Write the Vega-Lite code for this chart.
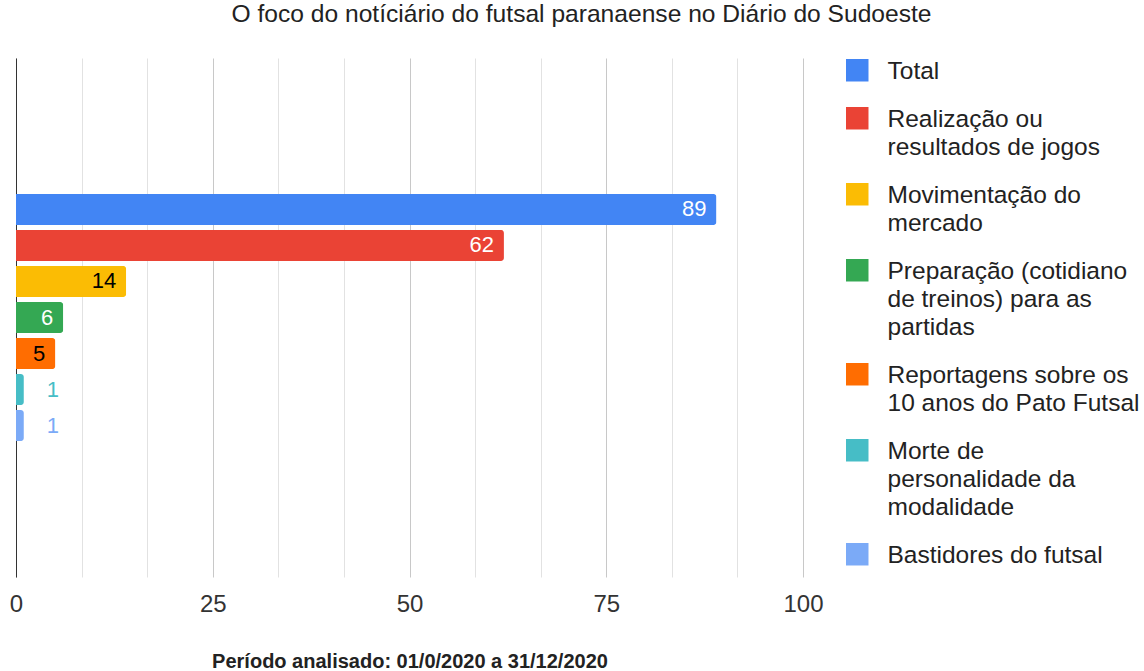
{
  "$schema": "https://vega.github.io/schema/vega-lite/v6.json",
  "width": 787,
  "height": 519,
  "autosize": {"type": "none"},
  "padding": {"left": 16, "top": 58, "right": 341, "bottom": 94},
  "background": "white",
  "config": {"style": {"guide-label": {"dy": -10, "lineHeight": 28}}, "view": {"stroke": null}},
  "title": {
    "text": "O foco do notíciário do futsal paranaense no Diário do Sudoeste",
    "font": "Liberation Sans",
    "fontSize": 24.6,
    "fontWeight": "normal",
    "color": "#222222",
    "anchor": "middle",
    "dx": 172,
    "offset": 30
  },
  "data": {
    "values": [
      {"categoria": "2020", "serie": "Total", "valor": 89},
      {"categoria": "2020", "serie": "Realização ou resultados de jogos", "valor": 62},
      {"categoria": "2020", "serie": "Movimentação do mercado", "valor": 14},
      {"categoria": "2020", "serie": "Preparação (cotidiano de treinos) para as partidas", "valor": 6},
      {"categoria": "2020", "serie": "Reportagens sobre os 10 anos do Pato Futsal", "valor": 5},
      {"categoria": "2020", "serie": "Morte de personalidade da modalidade", "valor": 1},
      {"categoria": "2020", "serie": "Bastidores do futsal", "valor": 1}
    ]
  },
  "encoding": {
    "y": {
      "field": "categoria",
      "type": "nominal",
      "scale": {"paddingInner": 0, "paddingOuter": 0.55},
      "axis": {"labels": false, "ticks": false, "title": null, "grid": false, "domain": true, "domainColor": "#333333", "domainWidth": 1}
    },
    "yOffset": {
      "field": "serie",
      "type": "nominal",
      "sort": null,
      "scale": {"paddingInner": 0.14, "paddingOuter": 0}
    },
    "x": {
      "field": "valor",
      "type": "quantitative",
      "scale": {"domain": [0, 100], "nice": false},
      "axis": {
        "values": [0, 8.3333, 16.6667, 25, 33.3333, 41.6667, 50, 58.3333, 66.6667, 75, 83.3333, 91.6667, 100],
        "labelExpr": "datum.value % 25 == 0 ? datum.label : ''",
        "format": "d",
        "grid": true,
        "gridColor": {"condition": {"test": "datum.value % 25 == 0", "value": "#c8c8c8"}, "value": "#e2e2e2"},
        "ticks": false,
        "domain": false,
        "labelFont": "Liberation Sans",
        "labelFontSize": 24,
        "labelColor": "#333333",
        "labelPadding": 25,
        "labelFlush": false,
        "title": "Período analisado: 01/0/2020 a 31/12/2020",
        "titleFont": "Liberation Sans",
        "titleFontSize": 20,
        "titleFontWeight": "bold",
        "titleColor": "#222222",
        "titlePadding": 35
      }
    }
  },
  "layer": [
    {
      "mark": {"type": "bar", "cornerRadiusEnd": 3},
      "encoding": {
        "color": {
          "field": "serie",
          "type": "nominal",
          "scale": {
            "domain": ["Total", "Realização ou resultados de jogos", "Movimentação do mercado", "Preparação (cotidiano de treinos) para as partidas", "Reportagens sobre os 10 anos do Pato Futsal", "Morte de personalidade da modalidade", "Bastidores do futsal"],
            "range": ["#4285f4", "#ea4335", "#fbbc04", "#34a853", "#ff6d01", "#46bdc6", "#7baaf7"]
          },
          "legend": {
            "title": null,
            "orient": "right",
            "offset": 42,
            "padding": 0,
            "symbolType": "square",
            "symbolSize": 506,
            "symbolStrokeWidth": 0,
            "symbolOpacity": 1,
            "labelFont": "Liberation Sans",
            "labelFontSize": 24.5,
            "labelColor": "#222222",
            "labelOffset": 18,
            "labelLimit": 300,
            "labelBaseline": "top",
            "rowPadding": 22,
            "labelExpr": "datum.label == 'Realização ou resultados de jogos' ? ['Realização ou', 'resultados de jogos'] : datum.label == 'Movimentação do mercado' ? ['Movimentação do', 'mercado'] : datum.label == 'Preparação (cotidiano de treinos) para as partidas' ? ['Preparação (cotidiano', 'de treinos) para as', 'partidas'] : datum.label == 'Reportagens sobre os 10 anos do Pato Futsal' ? ['Reportagens sobre os', '10 anos do Pato Futsal'] : datum.label == 'Morte de personalidade da modalidade' ? ['Morte de', 'personalidade da', 'modalidade'] : datum.label"
          }
        }
      }
    },
    {
      "transform": [{"filter": "datum.valor >= 5"}],
      "mark": {"type": "text", "align": "right", "baseline": "middle", "dx": -10, "font": "Liberation Sans", "fontSize": 22},
      "encoding": {
        "text": {"field": "valor", "type": "quantitative"},
        "color": {
          "condition": {"test": "datum.serie == 'Movimentação do mercado' || datum.serie == 'Reportagens sobre os 10 anos do Pato Futsal'", "value": "#000000"},
          "value": "#ffffff"
        }
      }
    },
    {
      "transform": [{"filter": "datum.valor < 5"}],
      "mark": {"type": "text", "align": "left", "baseline": "middle", "dx": 23, "font": "Liberation Sans", "fontSize": 22},
      "encoding": {
        "text": {"field": "valor", "type": "quantitative"},
        "color": {"field": "serie", "type": "nominal", "legend": null}
      }
    }
  ]
}
